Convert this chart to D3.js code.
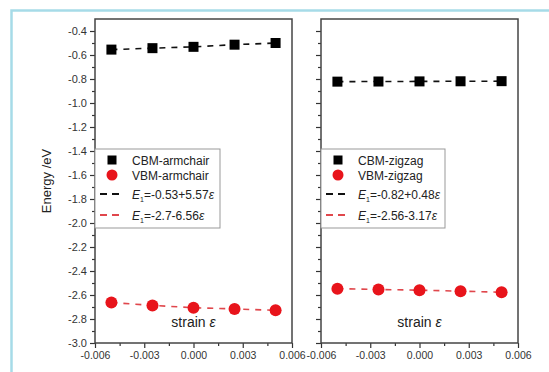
<!DOCTYPE html>
<html><head><meta charset="utf-8">
<script src="https://cdn.jsdelivr.net/npm/d3@7"></script>
<style>
html,body{margin:0;padding:0;background:#fff;}
svg{display:block;font-family:"Liberation Sans",Arial,sans-serif;}
</style></head>
<body><svg id="chart" width="549" height="372"></svg>
<script>
const strain = [-0.005, -0.0025, 0, 0.0025, 0.005];
const cbmArmchair = [-0.555, -0.543, -0.532, -0.514, -0.500];
const vbmArmchair = [-2.663, -2.687, -2.706, -2.716, -2.728];
const cbmZigzag = [-0.822, -0.821, -0.820, -0.819, -0.818];
const vbmZigzag = [-2.547, -2.554, -2.560, -2.568, -2.577];
const xTicks = [-0.006, -0.003, 0, 0.003, 0.006];
const yTicks = [-3.0,-2.8,-2.6,-2.4,-2.2,-2.0,-1.8,-1.6,-1.4,-1.2,-1.0,-0.8,-0.6,-0.4];
const panels = [
  {cbm: cbmArmchair, vbm: vbmArmchair, names: ["CBM-armchair","VBM-armchair"],
   fits: [["-0.53+5.57"],["-2.7-6.56"]], left: 95, right: 292, labels: true},
  {cbm: cbmZigzag, vbm: vbmZigzag, names: ["CBM-zigzag","VBM-zigzag"],
   fits: [["-0.82+0.48"],["-2.56-3.17"]], left: 321, right: 518, labels: false}
];

const svg = d3.select("#chart");
svg.append("path").attr("d","M11.5,372 L11.5,10.5 L549,10.5")
  .attr("fill","none").attr("stroke","#a6dbe8").attr("stroke-width",2.5);

const plotTop = 19, plotBottom = 343;
const y = d3.scaleLinear().domain([-3.0, -0.3]).range([plotBottom, plotTop]);
const axisColor = "#333";
const red = "#e8141b", redLine = "#e0474c";
const fmt = f => v => f(v).replace("\u2212","-");

panels.forEach(p => {
  const x = d3.scaleLinear().domain([-0.006, 0.006]).range([p.left, p.right]);
  const g = svg.append("g");
  const ya = g.append("g").attr("transform",`translate(${p.left},0)`)
    .call(d3.axisLeft(y).tickValues(yTicks).tickSize(5).tickPadding(3)
      .tickFormat(p.labels ? fmt(d3.format(".1f")) : () => ""));
  const ym = g.append("g").attr("transform",`translate(${p.left},0)`)
    .call(d3.axisLeft(y).tickValues(d3.range(-2.9, -0.3, 0.2)).tickSize(3).tickFormat(""));
  const xa = g.append("g").attr("transform",`translate(0,${plotBottom})`)
    .call(d3.axisBottom(x).tickValues(xTicks).tickSize(5).tickPadding(4)
      .tickFormat(fmt(d3.format(".3f"))));
  const xm = g.append("g").attr("transform",`translate(0,${plotBottom})`)
    .call(d3.axisBottom(x).tickValues([-0.0045,-0.0015,0.0015,0.0045]).tickSize(3).tickFormat(""));
  [ya,ym,xa,xm].forEach(a => {
    a.select(".domain").remove();
    a.selectAll("line").attr("stroke",axisColor).attr("stroke-width",1.2);
    a.selectAll("text").attr("fill",axisColor).style("font-size","11px")
      .style("font-family","'Liberation Sans',Arial,sans-serif");
  });
  xa.selectAll("text").style("font-size","10.5px");
  g.append("rect").attr("x",p.left).attr("y",plotTop).attr("width",p.right-p.left)
    .attr("height",plotBottom-plotTop).attr("fill","none").attr("stroke","#444").attr("stroke-width",1.5);

  const line = d3.line().x((d,i)=>x(strain[i])).y(d=>y(d));
  g.append("path").datum(p.cbm).attr("d",line).attr("fill","none")
    .attr("stroke","#111").attr("stroke-width",1.6).attr("stroke-dasharray","6,6");
  g.append("path").datum(p.vbm).attr("d",line).attr("fill","none")
    .attr("stroke",redLine).attr("stroke-width",1.6).attr("stroke-dasharray","6,6");
  const sq = 10;
  g.selectAll(".sq").data(p.cbm).join("rect")
    .attr("x",(d,i)=>x(strain[i])-sq/2).attr("y",d=>y(d)-sq/2)
    .attr("width",sq).attr("height",sq).attr("fill","#000");
  g.selectAll(".ci").data(p.vbm).join("circle")
    .attr("cx",(d,i)=>x(strain[i])).attr("cy",d=>y(d)).attr("r",6)
    .attr("fill",red);

  const sl = g.append("text").attr("x",(p.left+p.right)/2).attr("y",327)
    .attr("text-anchor","middle").style("font-size","14px").attr("fill","#222");
  sl.append("tspan").text("strain ");
  sl.append("tspan").style("font-style","italic").text("ε");

  const lx = p.left, ly = 149, lw = (p.labels ? 125 : 124), lh = 79;
  const lg = g.append("g");
  lg.append("rect").attr("x",lx).attr("y",ly).attr("width",lw).attr("height",lh)
    .attr("fill","#fff").attr("stroke","#999").attr("stroke-width",1);
  const mx = lx + 17, tx = lx + 37;
  const rows = [ly+11, ly+26, ly+45, ly+66];
  lg.append("rect").attr("x",mx-4.5).attr("y",rows[0]-4.5).attr("width",9).attr("height",9).attr("fill","#000");
  lg.append("circle").attr("cx",mx).attr("cy",rows[1]).attr("r",5.5).attr("fill",red);
  lg.append("line").attr("x1",lx+5).attr("x2",lx+24).attr("y1",rows[2]).attr("y2",rows[2])
    .attr("stroke","#111").attr("stroke-width",1.8).attr("stroke-dasharray","7,5");
  lg.append("line").attr("x1",lx+5).attr("x2",lx+24).attr("y1",rows[3]).attr("y2",rows[3])
    .attr("stroke",redLine).attr("stroke-width",1.8).attr("stroke-dasharray","7,5");
  p.names.forEach((n,i)=>{
    lg.append("text").attr("x",tx).attr("y",rows[i]+4.5).style("font-size","12px").attr("fill","#222").text(n);
  });
  p.fits.forEach((f,i)=>{
    const t = lg.append("text").attr("x",tx).attr("y",rows[i+2]+4.5).style("font-size","12px").attr("fill","#222");
    t.append("tspan").style("font-style","italic").text("E");
    t.append("tspan").attr("dy",3).style("font-size","7px").text("1");
    t.append("tspan").attr("dy",-3).text("=" + f[0]);
    t.append("tspan").style("font-style","italic").text("ε");
  });
});

svg.append("text").attr("transform","translate(51,181) rotate(-90)")
  .attr("text-anchor","middle").style("font-size","13px").attr("fill","#222").text("Energy /eV");
</script></body></html>
